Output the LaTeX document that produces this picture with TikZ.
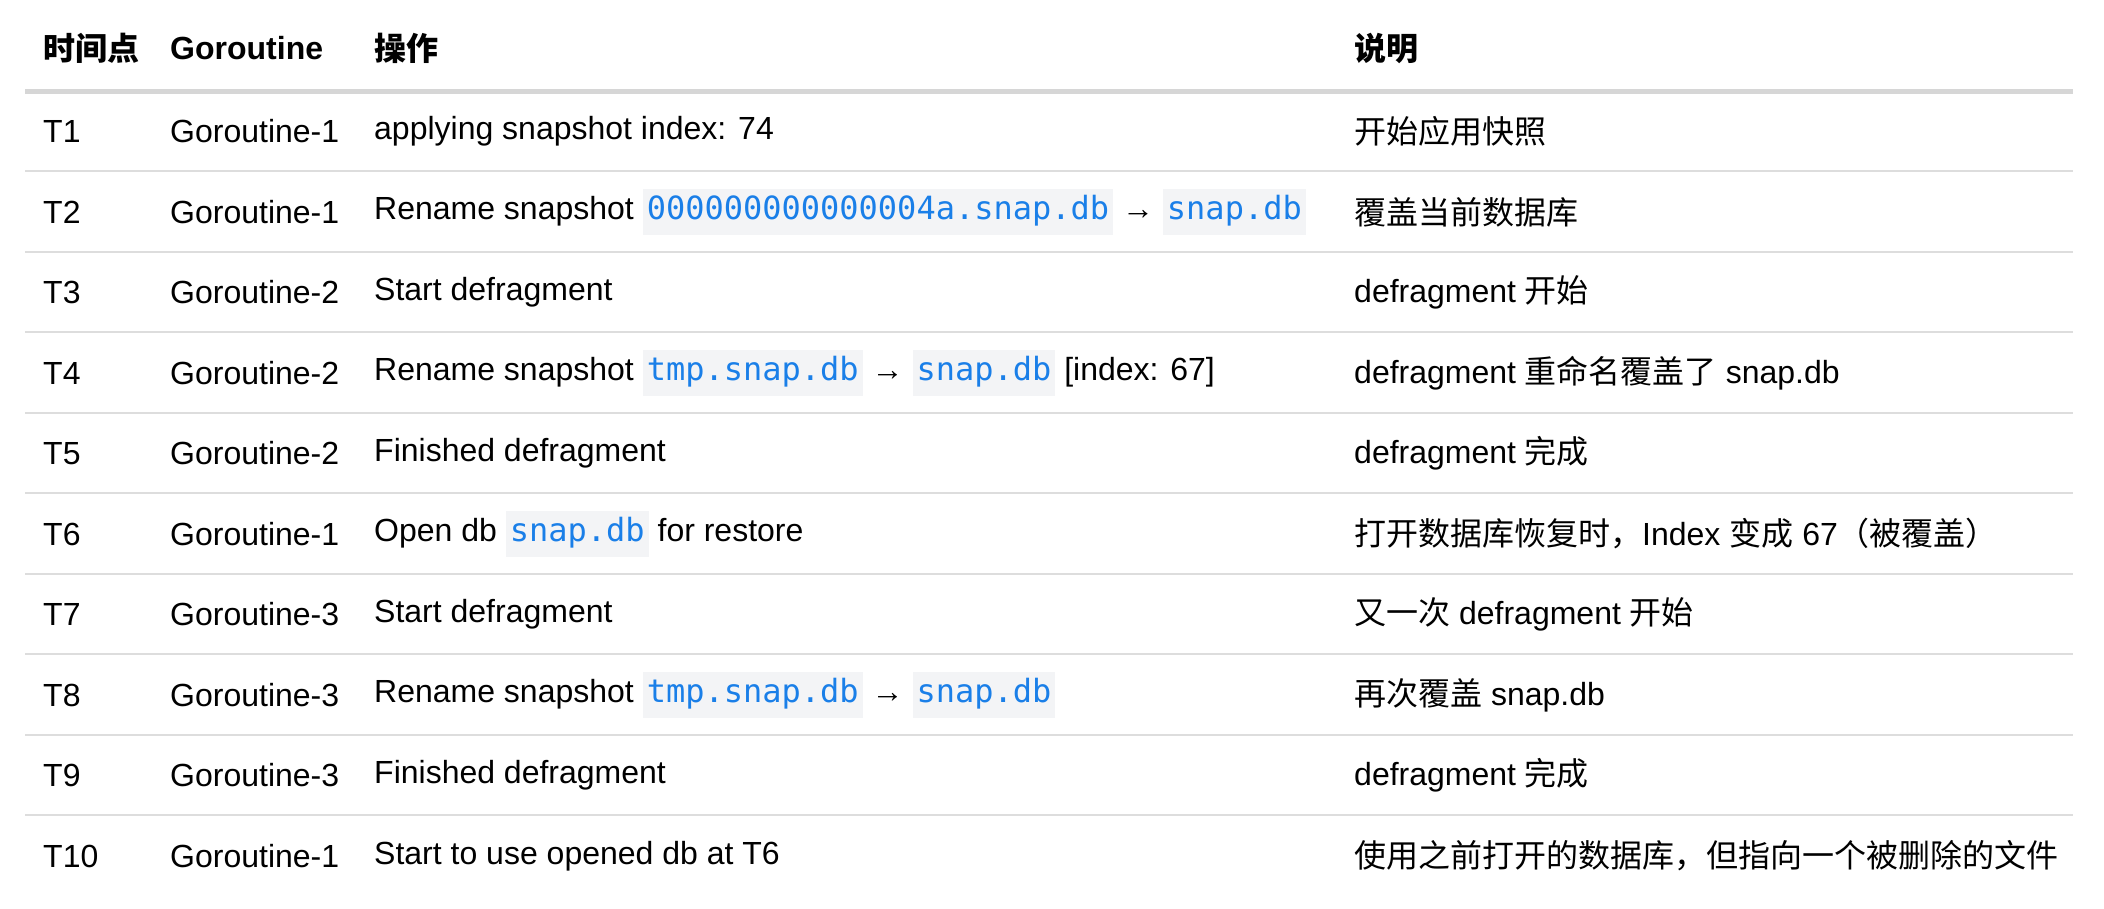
\documentclass[tikz,border=0pt]{standalone}
\usepackage{fontspec}
\setmainfont{Liberation Sans}
\setmonofont{DejaVu Sans Mono}
\newfontfamily\cjk{Noto Sans CJK SC}
\definecolor{codebg}{HTML}{F3F4F6}
\definecolor{codeblue}{HTML}{1A7FE8}
\definecolor{rule}{HTML}{DDDDDD}
\definecolor{hrule}{HTML}{D6D6D6}
\newcommand\zh[1]{{\cjk #1}}
\newcommand\code[1]{{\setlength\fboxsep{4pt}\colorbox{codebg}{\strut\ttfamily\color{codeblue}#1}}}
\begin{document}
\begin{tikzpicture}[x=1pt,y=-1pt,
  cell/.style={anchor=west,inner sep=0pt,font=\fontsize{32}{38}\selectfont},
  head/.style={cell,font=\fontsize{32}{38}\selectfont\bfseries},
  rowline/.style={draw=rule,line width=2pt},
  headline/.style={draw=hrule,line width=5pt}]
\useasboundingbox (0,0) rectangle (2104,908);
\node[head] (h1) at (43,48) {\zh{\bfseries 时间点}};
\node[head] (h2) at (170,48) {Goroutine};
\node[head] (h3) at (374,48) {\zh{\bfseries 操作}};
\node[head] (h4) at (1354,48) {\zh{\bfseries 说明}};
\coordinate (hl) at (25,91); \coordinate (hr) at (2073,91);
\draw[headline] (hl) -- (hr);
\foreach \k in {0,...,8}{
  \coordinate (l\k) at (25,{171+80.5*\k});
  \coordinate (r\k) at (2073,{171+80.5*\k});
  \draw[rowline] (l\k) -- (r\k);
}
\def\Y#1{{131.5+80.5*(#1-1)}}
% T1
\node[cell] (a1) at (43,\Y1) {T1};
\node[cell] (b1) at (170,\Y1) {Goroutine-1};
\node[cell] (c1) at (374,\Y1) {applying snapshot index: 74};
\node[cell] (d1) at (1354,\Y1) {\zh{开始应用快照}};
% T2
\node[cell] (a2) at (43,\Y2) {T2};
\node[cell] (b2) at (170,\Y2) {Goroutine-1};
\node[cell] (c2) at (374,\Y2) {Rename snapshot \code{000000000000004a.snap.db} → \code{snap.db}};
\node[cell] (d2) at (1354,\Y2) {\zh{覆盖当前数据库}};
% T3
\node[cell] (a3) at (43,\Y3) {T3};
\node[cell] (b3) at (170,\Y3) {Goroutine-2};
\node[cell] (c3) at (374,\Y3) {Start defragment};
\node[cell] (d3) at (1354,\Y3) {defragment \zh{开始}};
% T4
\node[cell] (a4) at (43,\Y4) {T4};
\node[cell] (b4) at (170,\Y4) {Goroutine-2};
\node[cell] (c4) at (374,\Y4) {Rename snapshot \code{tmp.snap.db} → \code{snap.db} [index: 67]};
\node[cell] (d4) at (1354,\Y4) {defragment \zh{重命名覆盖了} snap.db};
% T5
\node[cell] (a5) at (43,\Y5) {T5};
\node[cell] (b5) at (170,\Y5) {Goroutine-2};
\node[cell] (c5) at (374,\Y5) {Finished defragment};
\node[cell] (d5) at (1354,\Y5) {defragment \zh{完成}};
% T6
\node[cell] (a6) at (43,\Y6) {T6};
\node[cell] (b6) at (170,\Y6) {Goroutine-1};
\node[cell] (c6) at (374,\Y6) {Open db \code{snap.db} for restore};
\node[cell] (d6) at (1354,\Y6) {\zh{打开数据库恢复时，}Index \zh{变成} 67\zh{（被覆盖）}};
% T7
\node[cell] (a7) at (43,\Y7) {T7};
\node[cell] (b7) at (170,\Y7) {Goroutine-3};
\node[cell] (c7) at (374,\Y7) {Start defragment};
\node[cell] (d7) at (1354,\Y7) {\zh{又一次} defragment \zh{开始}};
% T8
\node[cell] (a8) at (43,\Y8) {T8};
\node[cell] (b8) at (170,\Y8) {Goroutine-3};
\node[cell] (c8) at (374,\Y8) {Rename snapshot \code{tmp.snap.db} → \code{snap.db}};
\node[cell] (d8) at (1354,\Y8) {\zh{再次覆盖} snap.db};
% T9
\node[cell] (a9) at (43,\Y9) {T9};
\node[cell] (b9) at (170,\Y9) {Goroutine-3};
\node[cell] (c9) at (374,\Y9) {Finished defragment};
\node[cell] (d9) at (1354,\Y9) {defragment \zh{完成}};
% T10
\node[cell] (a10) at (43,\Y{10}) {T10};
\node[cell] (b10) at (170,\Y{10}) {Goroutine-1};
\node[cell] (c10) at (374,\Y{10}) {Start to use opened db at T6};
\node[cell] (d10) at (1354,\Y{10}) {\zh{使用之前打开的数据库，但指向一个被删除的文件}};
\end{tikzpicture}
\end{document}
